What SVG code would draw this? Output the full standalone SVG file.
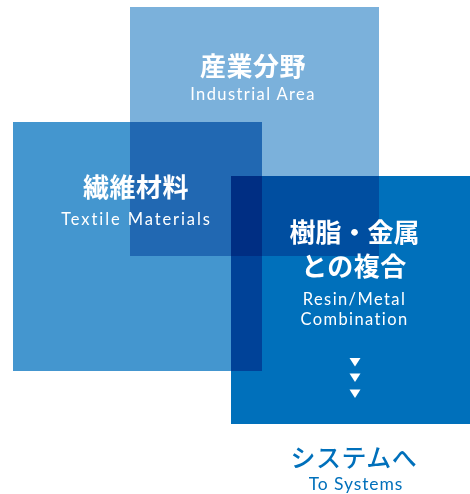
<svg xmlns="http://www.w3.org/2000/svg" width="470" height="494" viewBox="0 0 470 494">
  <style>
    .sq { mix-blend-mode: multiply; }
    .jp { font-family: "Noto Sans CJK JP", "Noto Sans", sans-serif; font-weight: 700; fill: #ffffff; text-anchor: middle; }
    .en { font-family: "Lato", "Liberation Sans", sans-serif; font-weight: 400; fill: #ffffff; text-anchor: middle; letter-spacing: 1.4px; }
    .tri { fill: #ffffff; }
  </style>
  <rect x="0" y="0" width="470" height="494" fill="#ffffff"/>
  <g id="squares" style="isolation:isolate">
    <rect class="sq" x="130" y="7" width="249" height="249" fill="#7bb1db"/>
    <rect class="sq" x="13" y="122" width="249" height="249" fill="#4496cf"/>
    <rect class="sq" x="231" y="176" width="249" height="248" fill="#0070bb"/>
  </g>
  <g id="node-industrial">
    <text class="jp" x="253" y="75.5" font-size="26" letter-spacing="0.5">産業分野</text>
    <text class="en" x="253" y="100" font-size="16.5">Industrial Area</text>
  </g>
  <g id="node-textile">
    <text class="jp" x="136" y="196.5" font-size="26" letter-spacing="0.5">繊維材料</text>
    <text class="en" x="136.5" y="224.5" font-size="16.5" style="letter-spacing:1.9px">Textile Materials</text>
  </g>
  <g id="node-resin">
    <text class="jp" x="354.5" y="241.5" font-size="26" letter-spacing="0">樹脂・金属</text>
    <text class="jp" x="354" y="275.5" font-size="26" letter-spacing="0.5">との複合</text>
    <text class="en" x="354.5" y="304.5" font-size="16.5">Resin/Metal</text>
    <text class="en" x="354.5" y="325" font-size="16.5">Combination</text>
  </g>
  <g id="connectors">
    <polygon class="tri" points="349.5,358 360.5,358 355,366.5"/>
    <polygon class="tri" points="349.5,373.5 360.5,373.5 355,382"/>
    <polygon class="tri" points="349.5,389.5 360.5,389.5 355,398"/>
  </g>
  <g id="node-systems">
    <text class="jp" x="354" y="467" font-size="25" letter-spacing="0.5" style="fill:#0070bb;font-weight:500">システムへ</text>
    <text class="en" x="356" y="489.5" font-size="17.5" style="fill:#0070bb;letter-spacing:0.9px">To Systems</text>
  </g>
</svg>
